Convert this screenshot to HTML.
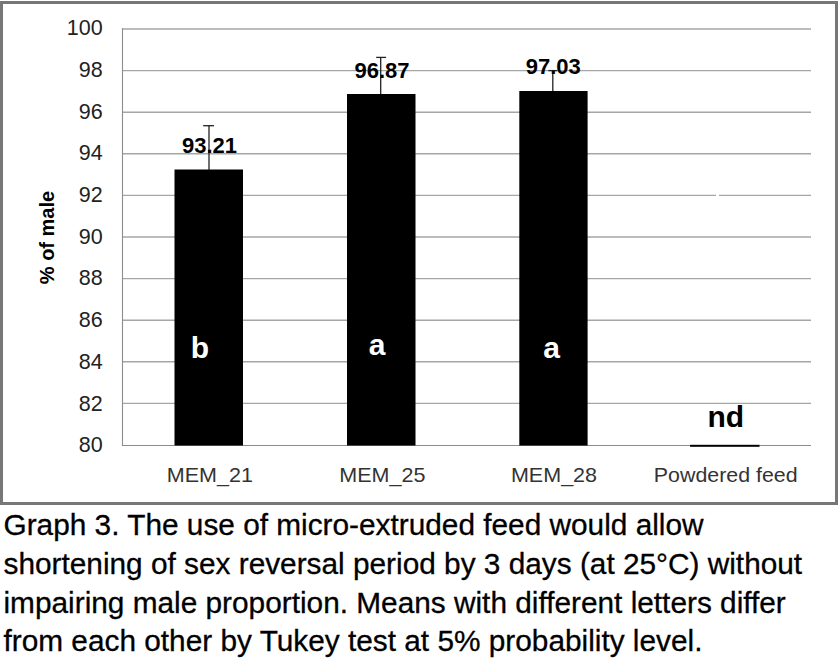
<!DOCTYPE html>
<html>
<head>
<meta charset="utf-8">
<style>
html,body{margin:0;padding:0;background:#fff;width:838px;height:663px;overflow:hidden;}
svg{display:block;}
text{font-family:"Liberation Sans", sans-serif;}
</style>
</head>
<body>
<svg width="838" height="663" viewBox="0 0 838 663">
  <!-- frame -->
  <rect x="1.5" y="2.5" width="835" height="501" fill="#fff" stroke="#777" stroke-width="3"/>
  <!-- gridlines -->
  <g class="grid" stroke="#a6a6a6" stroke-width="1.4">
    <line x1="122" y1="29" x2="811" y2="29"/>
    <line x1="122" y1="70.6" x2="811" y2="70.6"/>
    <line x1="122" y1="112.2" x2="811" y2="112.2"/>
    <line x1="122" y1="153.8" x2="811" y2="153.8"/>
    <line x1="122" y1="195.4" x2="716" y2="195.4"/>
    <line x1="719" y1="195.4" x2="811" y2="195.4"/>
    <line x1="122" y1="237" x2="811" y2="237"/>
    <line x1="122" y1="278.6" x2="811" y2="278.6"/>
    <line x1="122" y1="320.2" x2="811" y2="320.2"/>
    <line x1="122" y1="361.8" x2="811" y2="361.8"/>
    <line x1="122" y1="403.4" x2="811" y2="403.4"/>
  </g>
  <g stroke="#8c8c8c" stroke-width="1.1">
    <line x1="122" y1="445.5" x2="811" y2="445.5"/>
    <line x1="122.5" y1="28.2" x2="122.5" y2="446"/>
  </g>
  <!-- bars -->
  <g fill="#000">
    <rect x="174.5" y="169.5" width="68.5" height="276"/>
    <rect x="347" y="94" width="68.5" height="351.5"/>
    <rect x="519.3" y="91" width="68.3" height="354.5"/>
    <rect x="690" y="444.8" width="69.5" height="2"/>
  </g>
  <!-- error bars -->
  <g class="err" stroke="#222" stroke-width="1.3" fill="none">
    <line x1="209" y1="125.7" x2="209" y2="170"/>
    <line x1="203.2" y1="125.7" x2="214" y2="125.7"/>
    <line x1="380.7" y1="57.4" x2="380.7" y2="94"/>
    <line x1="376.2" y1="57.4" x2="386.1" y2="57.4"/>
    <line x1="552.8" y1="70.6" x2="552.8" y2="91"/>
    <line x1="548.3" y1="70.6" x2="557.3" y2="70.6"/>
  </g>
  <!-- y tick labels -->
  <g font-size="21.5" fill="#222" text-anchor="end">
    <text x="102.6" y="35.0">100</text>
    <text x="102.6" y="76.7">98</text>
    <text x="102.6" y="118.5">96</text>
    <text x="102.6" y="160.2">94</text>
    <text x="102.6" y="202.0">92</text>
    <text x="102.6" y="243.7">90</text>
    <text x="102.6" y="285.4">88</text>
    <text x="102.6" y="327.2">86</text>
    <text x="102.6" y="368.9">84</text>
    <text x="102.6" y="410.7">82</text>
    <text x="102.6" y="452.4">80</text>
  </g>
  <!-- y axis title -->
  <text transform="translate(54,284.2) rotate(-90)" font-size="20" font-weight="bold" fill="#000">% of male</text>
  <!-- value labels -->
  <g font-size="22" font-weight="bold" fill="#000" text-anchor="middle">
    <text x="209.5" y="153.2">93.21</text>
    <text x="382" y="77.6">96.87</text>
    <text x="553.3" y="74">97.03</text>
  </g>
  <!-- letters -->
  <g font-size="30" font-weight="bold" fill="#fff" text-anchor="middle">
    <text x="200" y="357.6">b</text>
    <text x="377" y="354.8">a</text>
    <text x="551.6" y="358">a</text>
  </g>
  <text x="725.8" y="426.5" font-size="30" font-weight="bold" fill="#000" text-anchor="middle">nd</text>
  <!-- x labels -->
  <g font-size="20" fill="#333" text-anchor="middle">
    <text transform="translate(209.8,482.2) scale(1.077,1)">MEM_21</text>
    <text transform="translate(382.3,482.2) scale(1.077,1)">MEM_25</text>
    <text transform="translate(554,482.2) scale(1.077,1)">MEM_28</text>
    <text transform="translate(725.7,482.4) scale(1.068,1)">Powdered feed</text>
  </g>
  <!-- caption -->
  <g font-size="29.8" fill="#000" stroke="#000" stroke-width="0.3">
    <text x="3.5" y="535.1">Graph 3. The use of micro-extruded feed would allow</text>
    <text x="3.5" y="573.8">shortening of sex reversal period by 3 days (at 25°C) without</text>
    <text x="3.5" y="612.6">impairing male proportion. Means with different letters differ</text>
    <text x="3.5" y="650.9">from each other by Tukey test at 5% probability level.</text>
  </g>
</svg>
</body>
</html>
